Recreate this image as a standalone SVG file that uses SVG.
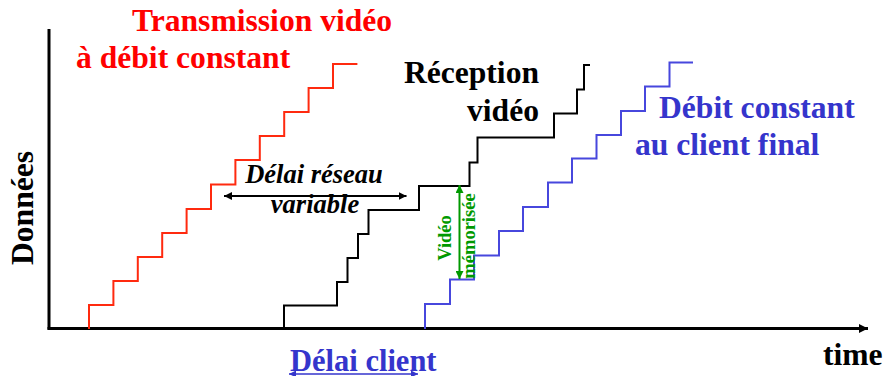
<svg xmlns="http://www.w3.org/2000/svg" width="885" height="376" viewBox="0 0 885 376">
  <style>
    .t { font-family: "Liberation Serif", "Times New Roman", serif; font-weight: bold; }
    .big { font-size: 31.6px; }
    .red { fill: #ff0000; }
    .blk { fill: #000000; }
    .blu { fill: #3535cc; }
    .grn { fill: #009900; font-size: 18.5px; }
    .stair { fill: none; stroke-width: 2; stroke-linejoin: miter; }
  </style>
  <defs>
    <marker id="ahBlack" viewBox="0 0 10 10" refX="10" refY="5" markerWidth="8" markerHeight="8" markerUnits="userSpaceOnUse" orient="auto-start-reverse">
      <path d="M0,0 L10,5 L0,10 z" fill="#000"/>
    </marker>
    <marker id="ahAxis" viewBox="0 0 10 10" refX="10" refY="5" markerWidth="9" markerHeight="9" markerUnits="userSpaceOnUse" orient="auto">
      <path d="M0,0 L10,5 L0,10 z" fill="#000"/>
    </marker>
    <marker id="ahGreen" viewBox="0 0 10 10" refX="10" refY="5" markerWidth="8" markerHeight="8" markerUnits="userSpaceOnUse" orient="auto-start-reverse">
      <path d="M0,0 L10,5 L0,10 z" fill="#009900"/>
    </marker>
    <marker id="ahBlue" viewBox="0 0 10 10" refX="10" refY="5" markerWidth="7" markerHeight="7" markerUnits="userSpaceOnUse" orient="auto-start-reverse">
      <path d="M0,0 L10,5 L0,10 z" fill="#3535cc"/>
    </marker>
  </defs>

  <!-- axes -->
  <g id="axes" stroke="#000" stroke-width="3" fill="none">
    <line x1="49" y1="29" x2="49" y2="329.5"/>
    <line x1="47.5" y1="328.5" x2="868" y2="328.5" marker-end="url(#ahAxis)"/>
  </g>

  <!-- staircases -->
  <g id="sending">
    <path class="stair" stroke="#ff2a0f" d="M89,329 V305 H113.4 V281 H137.8 V257 H162.2 V233 H186.6 V209 H211 V184.5 H235.4 V160 H259.8 V136 H284.2 V112 H308.6 V88 H333 V64 H357.4"/>
  </g>
  <g id="receiving">
    <path class="stair" stroke="#000" d="M284,329 V305.5 H337 V282 H347.5 V258 H358 V234 H368.5 V210 H419 V186 H469.5 V162.5 H477.5 V137.5 H554 V113.5 H577 V89.5 H584 V65 H590"/>
  </g>
  <g id="playout">
    <path class="stair" stroke="#4747dd" d="M425,329 V304 H450 V279.5 H474 V255.5 H499 V231 H523 V207 H548 V182.5 H572 V158.5 H596.5 V135 H621 V111 H645 V86.5 H669.5 V62.5 H693"/>
  </g>

  <!-- connectors -->
  <g id="connectors" fill="none">
    <line x1="224" y1="196" x2="406.5" y2="196" stroke="#000" stroke-width="2" marker-start="url(#ahBlack)" marker-end="url(#ahBlack)"/>
    <line x1="459.5" y1="185" x2="459.5" y2="279" stroke="#009900" stroke-width="2" marker-start="url(#ahGreen)" marker-end="url(#ahGreen)"/>
    <line x1="289" y1="374" x2="418" y2="374" stroke="#3535cc" stroke-width="1.5" marker-start="url(#ahBlue)" marker-end="url(#ahBlue)"/>
  </g>

  <!-- labels -->
  <g id="label-sending">
    <text class="t big red" x="132" y="31">Transmission vidéo</text>
    <text class="t big red" x="76" y="68">à débit constant</text>
  </g>
  <g id="label-receiving">
    <text class="t big blk" x="539" y="83" text-anchor="end">Réception</text>
    <text class="t big blk" x="539" y="121" text-anchor="end">vidéo</text>
  </g>
  <g id="label-playout">
    <text class="t big blu" x="659" y="118">Débit constant</text>
    <text class="t big blu" x="635" y="155">au client final</text>
  </g>
  <g id="label-network-delay">
    <text class="t blk" font-style="italic" font-size="26.5" x="314" y="183" text-anchor="middle">Délai réseau</text>
    <text class="t blk" font-style="italic" font-size="26.5" x="315" y="213" text-anchor="middle">variable</text>
  </g>
  <g id="label-buffer">
    <text class="t grn" transform="translate(451,238) rotate(-90)" text-anchor="middle">Vidéo</text>
    <text class="t grn" transform="translate(475,236) rotate(-90)" text-anchor="middle">mémorisée</text>
  </g>
  <g id="label-y">
    <text class="t big blk" transform="translate(33,208) rotate(-90)" text-anchor="middle">Données</text>
  </g>
  <g id="label-x">
    <text class="t big blk" x="823" y="365">time</text>
  </g>
  <g id="label-client-delay">
    <text class="t blu" font-size="30.5" x="290" y="371">Délai client</text>
  </g>
</svg>
